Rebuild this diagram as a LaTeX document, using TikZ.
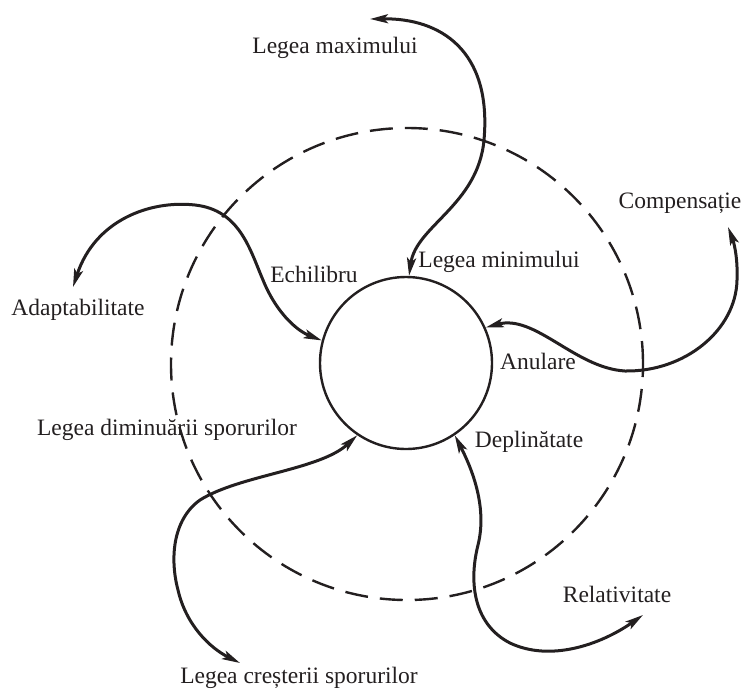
\documentclass[tikz,border=0pt]{standalone}
\usepackage{fontspec}
\setmainfont{Liberation Serif}
\usetikzlibrary{arrows.meta}
\definecolor{ink}{RGB}{35,31,32}
\begin{document}
\begin{tikzpicture}[x=1pt,y=-1pt,
  lbl/.style={font=\fontsize{23.5}{28}\selectfont, text=ink, inner sep=0pt, anchor=base},
  flow/.style={draw=ink, line width=3pt,
    {Stealth[length=18pt,width=9pt,inset=4pt]}-{Stealth[length=18pt,width=9pt,inset=4pt]}},
  hub/.style={circle, draw=ink, line width=2.4pt, inner sep=0pt},
  orbit/.style={hub, dash pattern=on 23pt off 12pt}]
\useasboundingbox (0,0) rectangle (746,691);

% central circle and the dashed ring around it
\node[hub, minimum size=172pt] (core) at (406,363) {};
\node[orbit, minimum size=472pt] (ring) at (407,364) {};

% free ends of the connectors
\coordinate (maxtip) at (370,19);
\coordinate (comptip) at (728,227);
\coordinate (adaptip) at (73,287);
\coordinate (growtip) at (240,663);
\coordinate (reltip) at (643,615);

% labels
\node[lbl] (lmax) at (335,53) {Legea maximului};
\node[lbl] (lmin) at (499,267) {Legea minimului};
\node[lbl] (comp) at (680,208) {Compensație};
\node[lbl] (echi) at (314,282) {Echilibru};
\node[lbl] (adap) at (78,315) {Adaptabilitate};
\node[lbl] (anul) at (538,369) {Anulare};
\node[lbl] (ldim) at (167,435) {Legea diminuării sporurilor};
\node[lbl] (depl) at (529,447) {Deplinătate};
\node[lbl] (rela) at (617,602) {Relativitate};
\node[lbl] (lcre) at (299,683) {Legea creșterii sporurilor};

% double-headed connectors
\draw[flow] (core.88) .. controls (416,226) and (478,205) .. (484,140)
  .. controls (492,50) and (440,18) .. (maxtip);
\draw[flow] (core.24) .. controls (535,314) and (575,368) .. (625,371)
  .. controls (685,372) and (736,330) .. (737,280)
  .. controls (738,255) and (733,240) .. (comptip);
\draw[flow] (core.165) .. controls (295,330) and (275,310) .. (263,280)
  .. controls (250,250) and (240,210) .. (195,205)
  .. controls (150,200) and (95,220) .. (adaptip);
\draw[flow] (core.236) .. controls (320,470) and (240,475) .. (200,500)
  .. controls (172,520) and (170,560) .. (178,590)
  .. controls (186,625) and (210,648) .. (growtip);
\draw[flow] (core.304) .. controls (470,465) and (488,505) .. (478,545)
  .. controls (468,585) and (475,625) .. (510,643)
  .. controls (550,662) and (600,645) .. (reltip);
\end{tikzpicture}
\end{document}
